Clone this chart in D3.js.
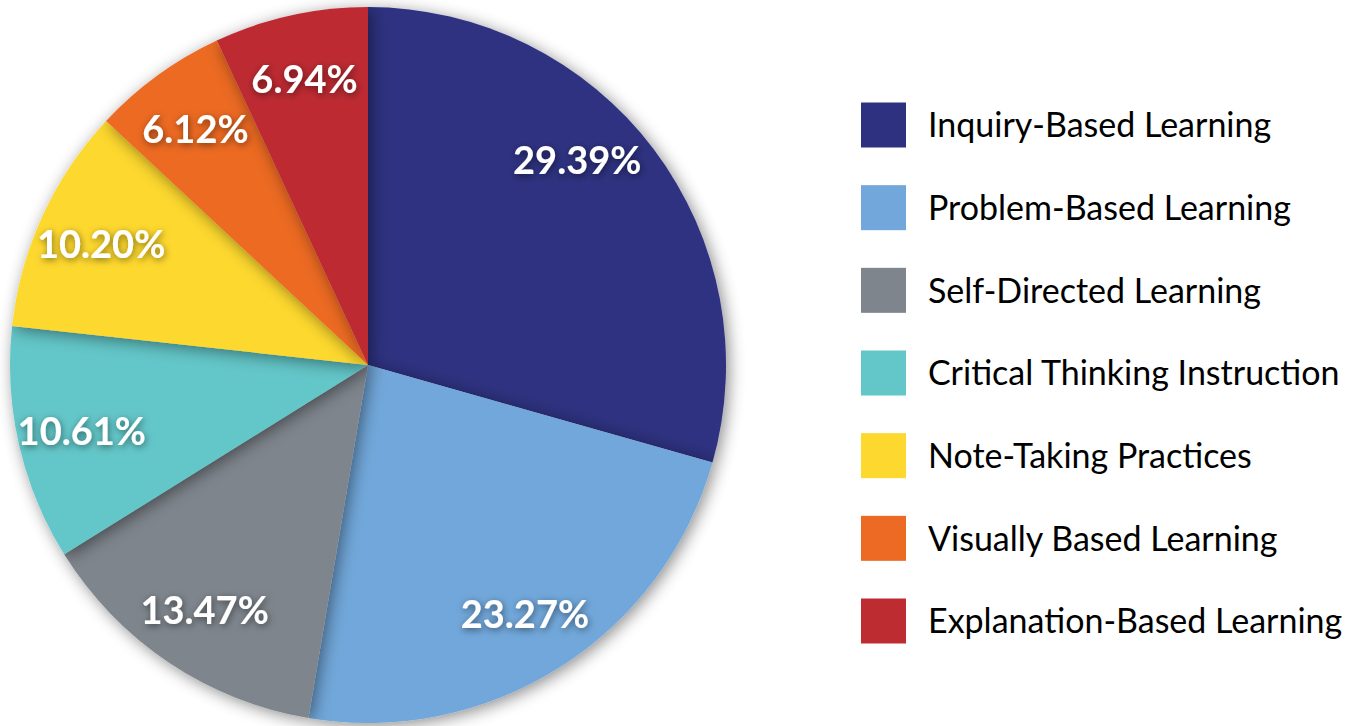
<!DOCTYPE html>
<html>
<head>
<meta charset="utf-8">
<script src="https://cdn.jsdelivr.net/npm/d3@7"></script>
<style>
  body { margin: 0; background: #fff; }
  .legend-label { font-family: Lato, "Open Sans", sans-serif; font-size: 34px; fill: #000; }
  .slice-label { font-family: Lato, "Open Sans", sans-serif; font-weight: 700; font-size: 38px; fill: #fff; }
</style>
</head>
<body>
<div id="chart"></div>
<script>
const categories = [
  "Inquiry-Based Learning",
  "Problem-Based Learning",
  "Self-Directed Learning",
  "Critical Thinking Instruction",
  "Note-Taking Practices",
  "Visually Based Learning",
  "Explanation-Based Learning"
]
const shares = [29.39, 23.27, 13.47, 10.61, 10.20, 6.12, 6.94]
const colors = ["#2e3180", "#71a7da", "#7e858c", "#63c6c8", "#fdd82f", "#ec6a24", "#bd2c30"]

const width = 1359
const height = 726
const cx = 368, cy = 365, radius = 358

const svg = d3.select("#chart")
  .append("svg")
  .attr("width", width)
  .attr("height", height)

const defs = svg.append("defs")
defs.append("filter")
  .attr("id", "slice-shadow")
  .attr("x", "-20%").attr("y", "-20%")
  .attr("width", "140%").attr("height", "140%")
  .append("feDropShadow")
  .attr("dx", 3).attr("dy", 3)
  .attr("stdDeviation", 8)
  .attr("flood-color", "#000")
  .attr("flood-opacity", 0.45)

defs.append("filter")
  .attr("id", "text-shadow")
  .attr("x", "-20%").attr("y", "-40%")
  .attr("width", "140%").attr("height", "180%")
  .append("feDropShadow")
  .attr("dx", 1).attr("dy", 2)
  .attr("stdDeviation", 3.5)
  .attr("flood-color", "#000")
  .attr("flood-opacity", 0.5)

const data = categories.map((name, i) => ({ name, value: shares[i], color: colors[i] }))

const pie = d3.pie()
  .sort(null)
  .value(d => d.value)

const arc = d3.arc()
  .innerRadius(0)
  .outerRadius(radius)

const arcs = pie(data)

const pieGroup = svg.append("g")
  .attr("transform", `translate(${cx},${cy})`)

// each slice carries its own shadow so later slices shade the earlier ones
pieGroup.selectAll(".slice")
  .data(arcs)
  .enter().append("path")
  .attr("class", "slice")
  .attr("d", arc)
  .attr("fill", d => d.data.color)
  .attr("filter", "url(#slice-shadow)")

// labels sit around 0.82 of the radius; the big first slice is pulled toward the top
const labelR = radius * 0.82
const angleNudge = { 0: -0.13 }
pieGroup.selectAll(".slice-label")
  .data(arcs)
  .enter().append("text")
  .attr("class", "slice-label")
  .attr("text-anchor", "middle")
  .attr("dominant-baseline", "central")
  .attr("filter", "url(#text-shadow)")
  .attr("transform", (d, i) => {
    const a = (d.startAngle + d.endAngle) / 2 + (angleNudge[i] || 0)
    return `translate(${labelR * Math.sin(a)},${-labelR * Math.cos(a)})`
  })
  .text(d => d.data.value.toFixed(2) + "%")

// legend
const y = d3.scalePoint()
  .domain(categories)
  .range([125, 621])

const legend = svg.append("g").attr("class", "legend")
const rows = legend.selectAll(".row")
  .data(data)
  .enter().append("g")
  .attr("class", "row")
  .attr("transform", d => `translate(861,${y(d.name)})`)

rows.append("rect")
  .attr("x", 0).attr("y", -22.5)
  .attr("width", 45).attr("height", 45)
  .attr("fill", d => d.color)

rows.append("text")
  .attr("class", "legend-label")
  .attr("x", 67)
  .attr("dy", "0.36em")
  .text(d => d.name)
</script>
</body>
</html>
